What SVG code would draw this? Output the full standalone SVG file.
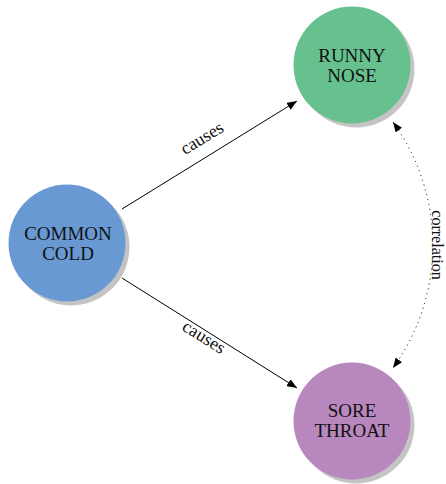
<svg xmlns="http://www.w3.org/2000/svg" width="446" height="484" viewBox="0 0 446 484">
<style>
.shadow{fill:#c4c4c4}
.lbl{font-family:"Liberation Serif",serif;font-size:19px;fill:#111;text-anchor:middle}
.edge{stroke:#000;stroke-width:1;fill:none}
.elbl{font-family:"Liberation Serif",serif;font-size:18px;fill:#111;text-anchor:middle}
</style>
<defs>
<marker id="arr" viewBox="0 0 10 8" refX="10" refY="4" markerWidth="10" markerHeight="8" markerUnits="userSpaceOnUse" orient="auto-start-reverse">
<path d="M0,0 L10,4 L0,8 Z" fill="#000"/>
</marker>
</defs>
<rect width="446" height="484" fill="#fff"/>
<g id="connectors">
<line class="edge" x1="122" y1="209" x2="297" y2="101" marker-end="url(#arr)"/>
<line class="edge" x1="122" y1="278" x2="297" y2="388" marker-end="url(#arr)"/>
<path class="edge" d="M393,122 A210,210 0 0 1 393,368" stroke-dasharray="1 4" marker-start="url(#arr)" marker-end="url(#arr)"/>
<text class="elbl" transform="translate(205,143) rotate(-31.5)">causes</text>
<text class="elbl" transform="translate(201,342) rotate(32)">causes</text>
<text class="elbl" style="font-size:16px" transform="translate(432,245) rotate(90)">correlation</text>
</g>
<g id="common_cold">
<circle class="shadow" cx="71" cy="247" r="58.5"/>
<circle cx="67" cy="243" r="58.5" fill="#6899d2"/>
<text class="lbl" x="68" y="240">COMMON</text>
<text class="lbl" x="68" y="260">COLD</text>
</g>
<g id="runny_nose">
<circle class="shadow" cx="356" cy="69" r="58.5"/>
<circle cx="352" cy="65" r="58.5" fill="#66c18e"/>
<text class="lbl" x="352" y="62">RUNNY</text>
<text class="lbl" x="352" y="82">NOSE</text>
</g>
<g id="sore_throat">
<circle class="shadow" cx="356" cy="425" r="58.5"/>
<circle cx="352" cy="421" r="58.5" fill="#b887be"/>
<text class="lbl" x="352" y="417">SORE</text>
<text class="lbl" x="352" y="437">THROAT</text>
</g>
</svg>
